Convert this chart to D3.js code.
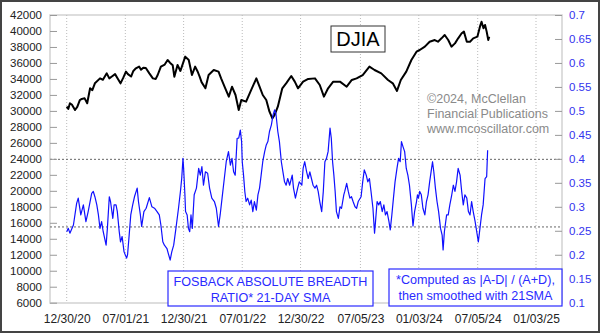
<!DOCTYPE html>
<html><head><meta charset="utf-8">
<script src="https://cdn.jsdelivr.net/npm/d3@7"></script>
<style>body{margin:0;background:#fff}svg{display:block;font-family:"Liberation Sans",Arial,sans-serif}</style>
</head><body>
<script>
const xTickDates = ["2020-12-30","2021-07-01","2021-12-30","2022-07-01","2022-12-30","2023-07-05","2024-01-03","2024-07-05","2025-01-03"];
const leftTicks = [6000,8000,10000,12000,14000,16000,18000,20000,22000,24000,26000,28000,30000,32000,34000,36000,38000,40000,42000];
const rightTicks = [0.1,0.15,0.2,0.25,0.3,0.35,0.4,0.45,0.5,0.55,0.6,0.65,0.7];
const refLines = [0.399, 0.258];

const djiaDates = ["2020-12-30","2021-01-04","2021-01-09","2021-01-15","2021-01-25","2021-02-01","2021-02-09","2021-02-15","2021-02-24","2021-03-04","2021-03-13","2021-03-20","2021-03-28","2021-04-13","2021-04-22","2021-05-04","2021-05-12","2021-05-20","2021-05-30","2021-06-08","2021-06-16","2021-06-24","2021-07-03","2021-07-09","2021-07-19","2021-07-26","2021-08-03","2021-08-13","2021-08-19","2021-08-26","2021-09-03","2021-09-14","2021-09-25","2021-10-04","2021-10-10","2021-10-20","2021-11-01","2021-11-10","2021-11-18","2021-11-26","2021-12-01","2021-12-11","2021-12-20","2021-12-25","2022-01-04","2022-01-15","2022-01-25","2022-02-04","2022-02-12","2022-02-18","2022-02-24","2022-03-08","2022-03-18","2022-04-03","2022-04-18","2022-04-26","2022-05-09","2022-05-20","2022-05-30","2022-06-10","2022-06-20","2022-06-28","2022-07-13","2022-07-29","2022-08-14","2022-08-24","2022-09-03","2022-09-14","2022-09-24","2022-10-03","2022-10-10","2022-10-20","2022-11-03","2022-11-15","2022-12-01","2022-12-12","2022-12-22","2023-01-07","2023-01-23","2023-02-13","2023-02-28","2023-03-13","2023-03-26","2023-04-11","2023-05-02","2023-05-23","2023-06-08","2023-06-23","2023-07-12","2023-08-02","2023-08-18","2023-09-08","2023-09-29","2023-10-14","2023-10-27","2023-11-08","2023-11-25","2023-12-11","2023-12-27","2024-01-06","2024-01-22","2024-02-06","2024-02-22","2024-03-03","2024-03-14","2024-03-24","2024-04-04","2024-04-14","2024-04-25","2024-05-05","2024-05-16","2024-05-23","2024-06-01","2024-06-11","2024-06-21","2024-07-04","2024-07-12","2024-07-17","2024-07-23","2024-07-28","2024-08-02","2024-08-07","2024-08-10"];
const djiaValues = [30530,30250,30950,30800,30110,30500,31360,31500,31570,30950,32830,32600,33450,34070,33900,34700,34070,34300,34600,34000,33450,34100,34910,34600,34300,35000,35330,35550,35150,35400,35370,34700,34070,34000,34490,35540,35800,36370,36000,35700,34280,35750,35000,35600,36790,36370,34490,35540,34900,34280,33600,32830,34490,35120,34910,34070,32830,31780,33030,31990,30110,31360,31160,32620,34070,33030,31990,31360,29900,29070,29490,30530,32830,33450,34370,33660,32830,33660,34000,34070,33240,31780,32830,33660,33660,33030,33870,34070,34490,35540,35120,34700,33870,33450,32500,33870,34910,36370,37410,37620,38040,38660,38870,38660,39080,39500,38870,38040,38450,39080,39710,39920,38660,38660,39080,39290,40540,41160,40330,40750,39920,38870,39290];

const ratioDates = ["2020-12-30","2021-01-04","2021-01-09","2021-01-20","2021-01-30","2021-02-04","2021-02-12","2021-02-20","2021-02-28","2021-03-07","2021-03-18","2021-03-23","2021-03-28","2021-04-03","2021-04-08","2021-04-13","2021-04-18","2021-04-23","2021-05-02","2021-05-06","2021-05-12","2021-05-16","2021-05-23","2021-05-27","2021-06-02","2021-06-06","2021-06-12","2021-06-16","2021-06-21","2021-06-27","2021-07-05","2021-07-08","2021-07-13","2021-07-18","2021-07-24","2021-07-30","2021-08-07","2021-08-11","2021-08-17","2021-08-21","2021-08-28","2021-09-04","2021-09-14","2021-09-22","2021-09-30","2021-10-08","2021-10-15","2021-10-20","2021-10-26","2021-10-31","2021-11-08","2021-11-12","2021-11-18","2021-11-23","2021-11-29","2021-12-06","2021-12-14","2021-12-20","2021-12-24","2021-12-28","2021-12-30","2022-01-03","2022-01-05","2022-01-10","2022-01-14","2022-01-18","2022-01-22","2022-01-26","2022-02-01","2022-02-08","2022-02-15","2022-02-20","2022-02-25","2022-03-02","2022-03-08","2022-03-15","2022-03-21","2022-03-28","2022-04-05","2022-04-11","2022-04-18","2022-04-23","2022-04-29","2022-05-06","2022-05-12","2022-05-19","2022-05-25","2022-05-30","2022-06-04","2022-06-09","2022-06-15","2022-06-20","2022-06-25","2022-06-29","2022-07-01","2022-07-05","2022-07-09","2022-07-13","2022-07-18","2022-07-24","2022-07-29","2022-08-03","2022-08-08","2022-08-14","2022-08-19","2022-08-24","2022-08-29","2022-09-03","2022-09-09","2022-09-14","2022-09-19","2022-09-24","2022-09-30","2022-10-05","2022-10-10","2022-10-14","2022-10-20","2022-10-25","2022-10-31","2022-11-05","2022-11-10","2022-11-15","2022-11-20","2022-11-26","2022-12-04","2022-12-08","2022-12-14","2022-12-21","2022-12-26","2023-01-03","2023-01-07","2023-01-12","2023-01-18","2023-01-23","2023-01-28","2023-02-02","2023-02-07","2023-02-13","2023-02-18","2023-02-23","2023-02-28","2023-03-06","2023-03-11","2023-03-16","2023-03-21","2023-03-26","2023-04-01","2023-04-05","2023-04-09","2023-04-13","2023-04-17","2023-04-21","2023-04-27","2023-05-02","2023-05-07","2023-05-14","2023-05-17","2023-05-23","2023-05-28","2023-06-02","2023-06-07","2023-06-12","2023-06-18","2023-06-23","2023-06-28","2023-07-07","2023-07-12","2023-07-17","2023-07-23","2023-07-28","2023-08-02","2023-08-07","2023-08-13","2023-08-18","2023-08-21","2023-08-26","2023-08-31","2023-09-05","2023-09-11","2023-09-16","2023-09-21","2023-09-26","2023-10-02","2023-10-06","2023-10-11","2023-10-16","2023-10-21","2023-10-27","2023-11-01","2023-11-06","2023-11-10","2023-11-15","2023-11-20","2023-11-25","2023-11-30","2023-12-05","2023-12-11","2023-12-16","2023-12-21","2023-12-27","2023-12-30","2024-01-02","2024-01-06","2024-01-11","2024-01-16","2024-01-22","2024-01-27","2024-02-01","2024-02-06","2024-02-12","2024-02-15","2024-02-19","2024-02-24","2024-02-29","2024-03-05","2024-03-11","2024-03-16","2024-03-19","2024-03-23","2024-03-30","2024-04-04","2024-04-09","2024-04-14","2024-04-20","2024-04-25","2024-04-30","2024-05-05","2024-05-11","2024-05-16","2024-05-21","2024-05-26","2024-06-01","2024-06-06","2024-06-11","2024-06-16","2024-06-21","2024-06-27","2024-07-02","2024-07-07","2024-07-12","2024-07-17","2024-07-22","2024-07-28","2024-08-02","2024-08-05"];
const ratioValues = [0.248,0.255,0.245,0.262,0.307,0.318,0.283,0.304,0.269,0.290,0.328,0.332,0.321,0.304,0.283,0.255,0.269,0.248,0.220,0.255,0.321,0.310,0.276,0.304,0.304,0.290,0.248,0.227,0.238,0.206,0.193,0.200,0.241,0.283,0.304,0.322,0.339,0.311,0.283,0.259,0.290,0.297,0.319,0.300,0.297,0.290,0.283,0.262,0.227,0.220,0.213,0.203,0.189,0.206,0.220,0.255,0.297,0.332,0.359,0.401,0.380,0.325,0.290,0.283,0.255,0.248,0.283,0.255,0.325,0.339,0.380,0.366,0.384,0.345,0.373,0.370,0.339,0.318,0.311,0.297,0.259,0.283,0.318,0.359,0.394,0.415,0.387,0.401,0.373,0.366,0.443,0.443,0.460,0.436,0.394,0.366,0.332,0.311,0.318,0.304,0.314,0.290,0.311,0.293,0.325,0.339,0.366,0.394,0.415,0.429,0.436,0.457,0.471,0.491,0.502,0.495,0.457,0.436,0.394,0.373,0.352,0.345,0.359,0.345,0.366,0.339,0.318,0.339,0.352,0.345,0.380,0.394,0.373,0.359,0.373,0.359,0.345,0.339,0.345,0.332,0.311,0.290,0.332,0.394,0.401,0.415,0.464,0.443,0.394,0.366,0.332,0.290,0.276,0.300,0.297,0.325,0.332,0.349,0.332,0.318,0.321,0.311,0.300,0.297,0.311,0.321,0.352,0.377,0.366,0.352,0.359,0.332,0.297,0.245,0.269,0.311,0.304,0.311,0.290,0.304,0.283,0.290,0.269,0.252,0.283,0.318,0.352,0.380,0.401,0.394,0.436,0.425,0.415,0.380,0.366,0.345,0.304,0.260,0.290,0.311,0.325,0.318,0.332,0.325,0.297,0.283,0.311,0.325,0.352,0.380,0.394,0.373,0.339,0.311,0.290,0.255,0.241,0.210,0.248,0.283,0.283,0.304,0.321,0.345,0.332,0.352,0.380,0.366,0.332,0.304,0.325,0.318,0.290,0.283,0.311,0.290,0.269,0.248,0.227,0.255,0.283,0.304,0.359,0.363,0.418];

const W = 600, H = 333;
const plotL = 50, plotR = 562, plotT = 15, plotB = 303;
const parse = d3.timeParse("%Y-%m-%d");
const fmt = d3.timeFormat("%m/%d/%y");

const x = d3.scaleTime().domain([parse("2020-12-30"), parse("2025-01-03")]).range([66.7, 536]);
const yL = d3.scaleLinear().domain([6000, 42000]).range([302.7, 15]);
const yR = d3.scaleLinear().domain([0.1, 0.7]).range([302.7, 15]);

const svg = d3.select("body").append("svg").attr("width", W).attr("height", H);
svg.append("rect").attr("x",1).attr("y",1).attr("width",W-2).attr("height",H-2)
  .attr("fill","#fff").attr("stroke","#444").attr("stroke-width",2);

svg.append("rect").attr("x",plotL).attr("y",plotT).attr("width",plotR-plotL).attr("height",plotB-plotT)
  .attr("fill","none").attr("stroke","#d2d2d2").attr("stroke-width",1.5);

// vertical gridlines
svg.append("g").selectAll("line").data(xTickDates).join("line")
  .attr("x1", d => x(parse(d))).attr("x2", d => x(parse(d)))
  .attr("y1", plotT).attr("y2", plotB)
  .attr("stroke","#bbb").attr("stroke-width",1).attr("stroke-dasharray","1,2");

// reference lines
svg.append("g").selectAll("line").data(refLines).join("line")
  .attr("x1", plotL).attr("x2", plotR)
  .attr("y1", d => yR(d)).attr("y2", d => yR(d))
  .attr("stroke","#666").attr("stroke-width",1).attr("stroke-dasharray","2,2");

// left axis
const gL = svg.append("g").attr("transform",`translate(${plotL},0)`)
  .call(d3.axisLeft(yL).tickValues(leftTicks).tickFormat(d3.format("d")).tickSize(-7).tickPadding(8));
gL.select(".domain").remove();
gL.selectAll("line").attr("stroke","#999");
gL.selectAll("text").attr("font-size","11.5px").attr("fill","#222").attr("font-family","Liberation Sans, Arial, sans-serif");

// right axis
const gR = svg.append("g").attr("transform",`translate(${plotR},0)`)
  .call(d3.axisRight(yR).tickValues(rightTicks).tickFormat(d => String(+d.toFixed(2))).tickSize(-7).tickPadding(7));
gR.select(".domain").remove();
gR.selectAll("line").attr("stroke","#999");
gR.selectAll("text").attr("font-size","11.5px").attr("fill","#3333ee").attr("font-family","Liberation Sans, Arial, sans-serif");

// bottom axis
const gB = svg.append("g").attr("transform",`translate(0,${plotB})`)
  .call(d3.axisBottom(x).tickValues(xTickDates.map(parse)).tickFormat(fmt).tickSize(0).tickPadding(11));
gB.select(".domain").remove();
gB.selectAll("text").attr("font-size","12px").attr("fill","#222").attr("font-family","Liberation Sans, Arial, sans-serif");

// DJIA line
const djia = djiaDates.map((d,i) => ({date: parse(d), v: djiaValues[i]}));
svg.append("path").datum(djia)
  .attr("d", d3.line().x(d => x(d.date)).y(d => yL(d.v)))
  .attr("fill","none").attr("stroke","#000").attr("stroke-width",2).attr("stroke-linejoin","round");

// ratio line
const ratio = ratioDates.map((d,i) => ({date: parse(d), v: ratioValues[i]}));
svg.append("path").datum(ratio)
  .attr("d", d3.line().x(d => x(d.date)).y(d => yR(d.v)))
  .attr("fill","none").attr("stroke","#1010ff").attr("stroke-width",1.2).attr("stroke-linejoin","round");

// DJIA label box
svg.append("rect").attr("x",331).attr("y",26).attr("width",54).attr("height",26)
  .attr("fill","#fff").attr("stroke","#333").attr("stroke-width",1);
svg.append("text").attr("x",358).attr("y",46).attr("text-anchor","middle")
  .attr("font-size","20px").attr("fill","#000").text("DJIA");

// copyright
const cp = ["©2024, McClellan","Financial Publications","www.mcoscillator.com"];
svg.append("g").selectAll("text").data(cp).join("text")
  .attr("x",427).attr("y",(d,i) => 103 + i*15)
  .attr("font-size","12.5px").attr("fill","#8a8a8a").text(d => d);

// legend boxes
function box(x0, y0, w, h, lines, cx) {
  svg.append("rect").attr("x",x0).attr("y",y0).attr("width",w).attr("height",h)
    .attr("fill","#fff").attr("stroke","#2a2aff").attr("stroke-width",1.2);
  svg.append("g").selectAll("text").data(lines).join("text")
    .attr("x",cx).attr("y",(d,i) => y0 + 15 + i*16).attr("text-anchor","middle")
    .attr("font-size","12.6px").attr("fill","#2a2aff").text(d => d);
}
box(168, 271, 205, 35, ["FOSBACK ABSOLUTE BREADTH","RATIO* 21-DAY SMA"], 270.5);
box(389, 269, 173, 37, ["*Computed as |A-D| / (A+D),","then smoothed with 21SMA"], 475.5);
</script>
</body></html>
